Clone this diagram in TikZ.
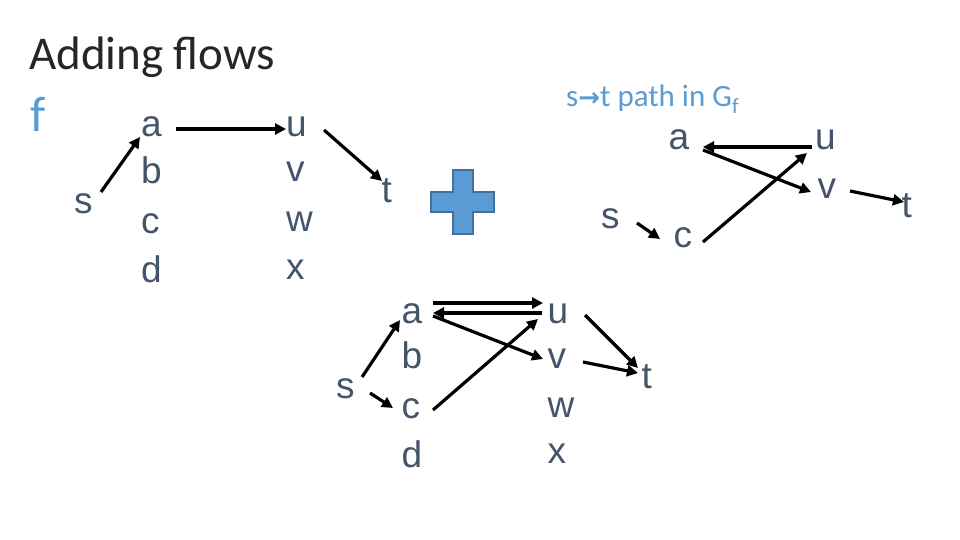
\documentclass[tikz,border=0pt]{standalone}
\usepackage{fontspec}
\setmainfont{Carlito}
\newfontfamily\lsans{Liberation Sans}
\newfontfamily\djv{DejaVu Sans}
\usetikzlibrary{arrows.meta}
\definecolor{slate}{HTML}{44546A}
\definecolor{accent}{HTML}{5B9BD5}
\definecolor{accentdk}{HTML}{41719C}
\begin{document}
\begin{tikzpicture}[x=1pt,y=-1pt,
  lt/.style={inner sep=0pt,anchor=base west,text=slate,font=\lsans\fontsize{37}{40}\selectfont},
  arr/.style={line width=3.2pt,-{Triangle[length=11pt,width=11pt]}},
  ttl/.style={inner sep=0pt,anchor=base west}]
\useasboundingbox (0,0) rectangle (960,540);
% title
\node[ttl,text=black!85,font=\fontsize{47}{50}\selectfont] (title) at (29,70) {Adding flows};
\node[ttl,text=accent,font=\fontsize{50}{52}\selectfont] (f) at (30,132) {f};
\node[ttl,text=accent,font=\fontsize{31}{33}\selectfont] (gf) at (566,107) {s{\djv\bfseries\fontsize{26}{28}\selectfont →}t path in G\textsubscript{f}};
% plus sign
\draw[fill=accent,draw=accentdk,line width=1.5pt] (453,170) -- (473,170) -- (473,192) -- (494,192) -- (494,212) -- (473,212) -- (473,234) -- (453,234) -- (453,212) -- (431,212) -- (431,192) -- (453,192) -- cycle;
% left graph (f)
\node[lt] (ls) at (74,213) {s};
\node[lt] (la) at (141,137) {a};
\node[lt] (lb) at (141,183) {b};
\node[lt] (lc) at (141,233) {c};
\node[lt] (ld) at (141,282) {d};
\node[lt] (lu) at (286,137) {u};
\node[lt] (lv) at (286,182) {v};
\node[lt] (lw) at (286,231) {w};
\node[lt] (lx) at (286,279) {x};
\node[lt] (lt) at (381.5,202) {t};
\draw[arr] ([shift={(27,-21)}]ls.base west) -- ([shift={(-1,0)}]la.base west);
\draw[arr] ([shift={(35,-8)}]la.base west) -- ([shift={(0,-8)}]lu.base west);
\draw[arr] ([shift={(38,-7)}]lu.base west) -- ([shift={(0.5,-21)}]lt.base west);
% right graph (path in Gf)
\node[lt] (rs) at (601,228) {s};
\node[lt] (ra) at (668.5,150) {a};
\node[lt] (rc) at (673.5,247) {c};
\node[lt] (ru) at (815,150) {u};
\node[lt] (rv) at (817.5,198) {v};
\node[lt] (rt) at (901.5,217) {t};
\draw[arr] ([shift={(-3,-3)}]ru.base west) -- ([shift={(34.5,-3)}]ra.base west);
\draw[arr] ([shift={(34.5,0)}]ra.base west) -- ([shift={(-6.5,-6)}]rv.base west);
\draw[arr] ([shift={(36,-5)}]rs.base west) -- ([shift={(-13.5,-8)}]rc.base west);
\draw[arr] ([shift={(29.5,-5)}]rc.base west) -- ([shift={(-8,3)}]ru.base west);
\draw[arr] ([shift={(32.5,-7)}]rv.base west) -- ([shift={(2.5,-15)}]rt.base west);
% bottom graph (sum)
\node[lt] (bs) at (336,398) {s};
\node[lt] (ba) at (401.5,323) {a};
\node[lt] (bb) at (401.5,368) {b};
\node[lt] (bc) at (401.5,418) {c};
\node[lt] (bd) at (401.5,467) {d};
\node[lt] (bu) at (547.5,323) {u};
\node[lt] (bv) at (547.5,368) {v};
\node[lt] (bw) at (547.5,417) {w};
\node[lt] (bx) at (547.5,463) {x};
\node[lt] (bt) at (641.5,388) {t};
\draw[arr] ([shift={(26,-21)}]bs.base west) -- ([shift={(-1.5,-3)}]ba.base west);
\draw[arr] ([shift={(34,-5)}]bs.base west) -- ([shift={(-8.5,-10)}]bc.base west);
\draw[arr] ([shift={(31.5,-20)}]ba.base west) -- ([shift={(-4.5,-20)}]bu.base west);
\draw[arr] ([shift={(-5.5,-10)}]bu.base west) -- ([shift={(31.5,-10)}]ba.base west);
\draw[arr] ([shift={(31.5,-7)}]ba.base west) -- ([shift={(-4.5,-9)}]bv.base west);
\draw[arr] ([shift={(31.5,-8)}]bc.base west) -- ([shift={(-9.5,-4)}]bu.base west);
\draw[arr] ([shift={(37.5,-8)}]bu.base west) -- ([shift={(-3.5,-20)}]bt.base west);
\draw[arr] ([shift={(35.5,-6)}]bv.base west) -- ([shift={(-3.5,-15)}]bt.base west);
\end{tikzpicture}
\end{document}
